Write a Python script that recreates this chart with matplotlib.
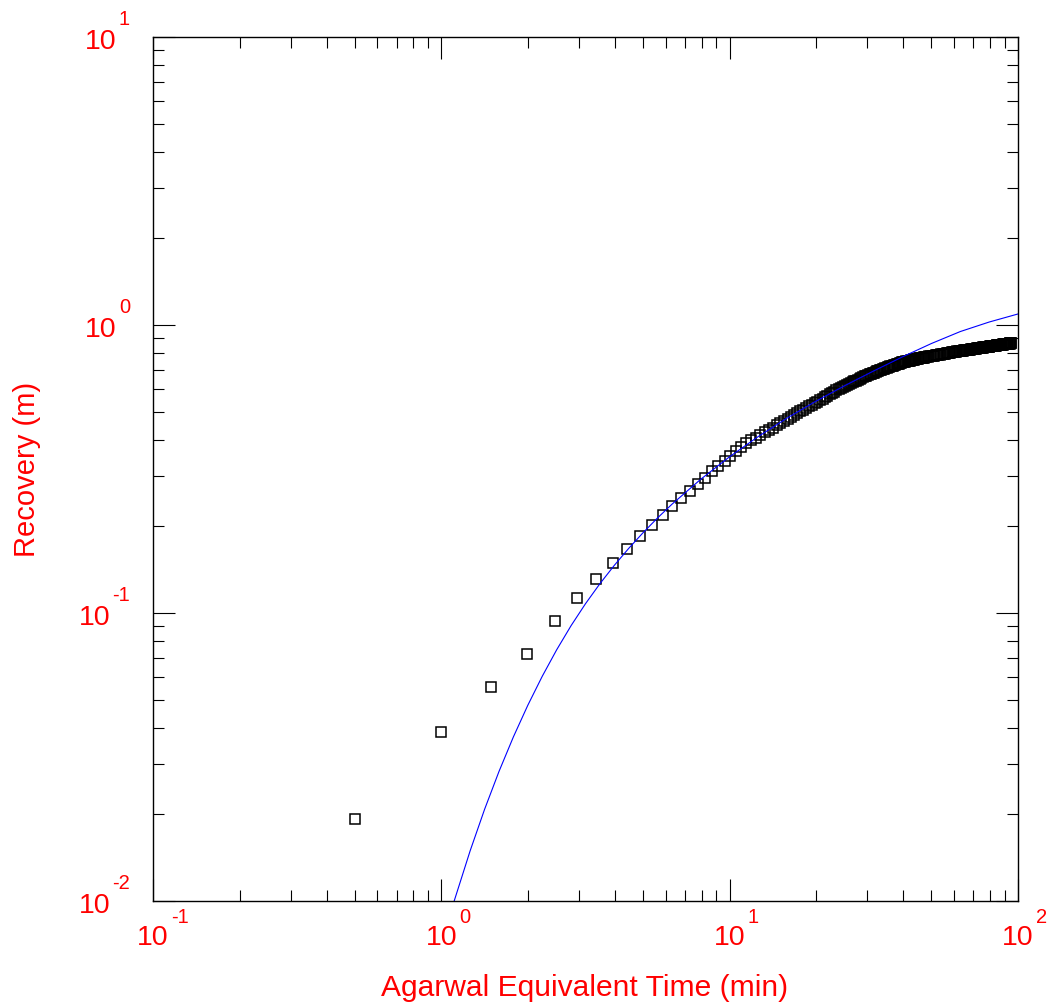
import matplotlib
matplotlib.use('Agg')
import matplotlib.pyplot as plt
from matplotlib.transforms import offset_copy, blended_transform_factory
from matplotlib.ticker import LogLocator, NullFormatter

plt.rcParams['font.family'] = ['Liberation Sans', 'DejaVu Sans']

# observed recovery (squares)
time_min = [
    0.50, 1.00, 1.49, 1.98, 2.47, 2.96, 3.45, 3.93, 4.42, 4.90, 5.38, 5.85,
    6.33, 6.80, 7.27, 7.74, 8.21, 8.67, 9.14, 9.60, 10.06, 10.51, 10.97, 11.43,
    11.88, 12.33, 12.78, 13.23, 13.67, 14.12, 14.56, 15.00, 15.44, 15.88, 16.31,
    16.74, 17.17, 17.60, 18.03, 18.46, 18.88, 19.31, 19.73, 20.15, 20.57, 20.99,
    21.40, 21.82, 22.23, 22.64, 23.05, 23.46, 23.86, 24.27, 24.67, 25.07, 25.47,
    25.87, 26.26, 26.67, 27.06, 27.45, 27.84, 28.24, 28.62, 29.01, 29.39, 29.78,
    30.16, 30.55, 30.93, 31.30, 31.68, 32.06, 32.43, 32.80, 33.18, 33.55, 33.91,
    34.29, 34.65, 35.02, 35.38, 35.75, 36.11, 36.47, 36.83, 37.18, 37.54, 37.90,
    38.25, 38.60, 38.95, 39.30, 39.65, 40.00, 40.35, 40.69, 41.04, 41.38, 41.72,
    42.06, 42.40, 42.74, 43.08, 43.41, 43.75, 44.08, 44.41, 44.75, 45.08, 45.41,
    45.73, 46.06, 46.39, 46.71, 47.04, 47.36, 47.68, 48.00, 48.64, 49.27, 49.90,
    50.53, 51.15, 51.77, 52.38, 52.99, 53.59, 54.19, 54.79, 55.39, 55.97, 56.56,
    57.14, 57.72, 58.30, 58.87, 59.44, 60.00, 60.56, 61.12, 61.67, 62.22, 62.77,
    63.31, 63.85, 64.39, 64.92, 65.45, 65.98, 66.51, 67.03, 67.55, 68.06, 68.57,
    69.08, 69.59, 70.09, 70.59, 71.09, 71.58, 72.07, 72.56, 73.04, 73.53, 74.01,
    74.48, 74.96, 75.43, 75.90, 76.36, 76.83, 77.29, 77.75, 78.20, 78.66, 79.11,
    79.55, 80.00, 80.44, 80.88, 81.32, 81.76, 82.19, 82.62, 83.05, 83.48, 83.90,
    84.32, 84.74, 85.16, 85.58, 85.99, 86.40, 86.81, 87.22, 87.62, 88.02, 88.42,
    88.82, 89.22, 89.61, 90.00, 90.39, 90.78, 91.16, 91.55, 91.93, 92.31, 92.69,
    93.06, 93.44, 93.81, 94.18, 94.55, 94.91,
]
recovery_m = [
    0.0193, 0.0386, 0.0553, 0.0721, 0.0935, 0.1127, 0.1315, 0.149, 0.167, 0.185,
    0.202, 0.219, 0.235, 0.250, 0.265, 0.280, 0.295, 0.311, 0.325, 0.338, 0.351,
    0.364, 0.377, 0.389,
    0.398, 0.4066, 0.415, 0.4239, 0.432, 0.4402, 0.4482, 0.456, 0.4639, 0.4716,
    0.479, 0.4865, 0.4937, 0.5009, 0.508, 0.515, 0.5218, 0.5288, 0.5354, 0.5421,
    0.5488, 0.5553, 0.5616, 0.568, 0.5743, 0.5806, 0.5868, 0.5927, 0.5986, 0.6047,
    0.6094, 0.6142, 0.6188, 0.6235, 0.628, 0.6326, 0.6371, 0.6414, 0.6458, 0.6503,
    0.6545, 0.6588, 0.6629, 0.667, 0.6704, 0.6738, 0.6772, 0.6804, 0.6837, 0.687,
    0.6902, 0.6933, 0.6965, 0.6996, 0.7026, 0.7058, 0.7083, 0.7108, 0.7132, 0.7158,
    0.7181, 0.7205, 0.7228, 0.7251, 0.7274, 0.7297, 0.7320, 0.7343, 0.7365, 0.7388,
    0.7410, 0.7432, 0.7449, 0.7466, 0.7483, 0.7500, 0.7514, 0.7527, 0.7541, 0.7555,
    0.7568, 0.7580, 0.7593, 0.7605, 0.7617, 0.7629, 0.7640, 0.7652, 0.7663, 0.7674,
    0.7685, 0.7695, 0.7706, 0.7716, 0.7727, 0.7737, 0.7757, 0.7776, 0.7794, 0.7813,
    0.7831, 0.7848, 0.7865, 0.7882, 0.7898, 0.7914, 0.7930, 0.7945, 0.7960, 0.7975,
    0.7989, 0.8003, 0.8017, 0.8030, 0.8043, 0.8055, 0.8067, 0.8079, 0.8091, 0.8102,
    0.8114, 0.8125, 0.8136, 0.8147, 0.8158, 0.8168, 0.8178, 0.8188, 0.8198, 0.8208,
    0.8218, 0.8227, 0.8236, 0.8245, 0.8254, 0.8263, 0.8272, 0.8281, 0.8290, 0.8298,
    0.8306, 0.8315, 0.8323, 0.8331, 0.8339, 0.8347, 0.8354, 0.8362, 0.8370, 0.8377,
    0.8385, 0.8392, 0.8399, 0.8407, 0.8414, 0.8421, 0.8428, 0.8435, 0.8442, 0.8449,
    0.8456, 0.8463, 0.8469, 0.8476, 0.8482, 0.8489, 0.8495, 0.8502, 0.8508, 0.8514,
    0.8521, 0.8527, 0.8533, 0.8539, 0.8545, 0.8551, 0.8557, 0.8563, 0.8568, 0.8574,
    0.8580, 0.8586, 0.8591, 0.8597, 0.8602, 0.8608, 0.8613, 0.8619, 0.8624, 0.8630,
    0.8635, 0.8640, 0.8645,
]

# fitted curve (blue line)
model_time = [1.047, 1.108, 1.259, 1.413, 1.585, 1.778, 1.995, 2.239, 2.512,
              2.818, 3.162, 3.548, 3.981, 4.467, 5.012, 5.623, 6.310, 7.943,
              10.0, 12.59, 15.85, 19.95, 25.12, 31.62, 39.81, 50.12, 63.10,
              79.43, 100.0]
model_recovery = [0.00826, 0.0100, 0.01495, 0.02083, 0.02818, 0.03714, 0.04783,
                  0.06031, 0.07452, 0.09036, 0.1077, 0.1264, 0.1464, 0.1677,
                  0.1902, 0.2139, 0.2387, 0.2915, 0.3489, 0.4105, 0.4757, 0.5443,
                  0.6163, 0.6929, 0.7757, 0.8627, 0.9491, 1.0240, 1.0922]

x_exps = ['-1', '0', '1', '2']
y_exps = ['-2', '-1', '0', '1']

RED = '#ff0000'

fig = plt.figure(figsize=(10.5, 10.08), dpi=100)
ax = fig.add_axes([153 / 1050, 1 - 901 / 1008, 865 / 1050, 864 / 1008])

ax.plot(time_min, recovery_m, linestyle='none', marker='s', markersize=7.4,
        markerfacecolor='none', markeredgecolor='black', markeredgewidth=1.1)
ax.plot(model_time, model_recovery, color='#0000ff', linewidth=0.8)

ax.set_xscale('log')
ax.set_yscale('log')
ax.set_xlim(0.1, 100)
ax.set_ylim(0.01, 10)

for axis in (ax.xaxis, ax.yaxis):
    axis.set_major_locator(LogLocator(base=10, numticks=10))
    axis.set_minor_locator(LogLocator(base=10, subs=range(2, 10), numticks=10))
    axis.set_minor_formatter(NullFormatter())
ax.tick_params(which='both', direction='in', top=True, right=True,
               labelbottom=False, labelleft=False, color='black', width=0.8)
ax.tick_params(which='major', length=15.8)
ax.tick_params(which='minor', length=7.9)
for sp in ax.spines.values():
    sp.set_linewidth(1.0)

# tick labels drawn as "10" with a raised exponent
tx = blended_transform_factory(ax.transData, ax.transAxes)
for e in x_exps:
    base = ax.text(10.0 ** float(e), 0, '10',
                   transform=offset_copy(tx, fig=fig, x=0, y=-24, units='dots'),
                   ha='center', va='top', color=RED, fontsize=20.5)
    ax.annotate(e, xy=(1, 1), xycoords=base, xytext=(1.5, -1.3),
                textcoords='offset points', ha='left', va='bottom',
                color=RED, fontsize=14.5)

ty = blended_transform_factory(ax.transAxes, ax.transData)
for e in y_exps:
    sup = ax.text(0, 10.0 ** float(e), e,
                  transform=offset_copy(ty, fig=fig, x=-23, y=8, units='dots'),
                  ha='right', va='bottom', color=RED, fontsize=14.5)
    ax.annotate('10', xy=(0, 0), xycoords=sup, xytext=(-1.5, 0),
                textcoords='offset points', ha='right', va='top',
                color=RED, fontsize=20.5)

fig.text(585 / 1050, 1 - 988 / 1008, 'Agarwal Equivalent Time (min)',
         ha='center', va='center', color=RED, fontsize=21.6)
fig.text(27 / 1050, 1 - 469 / 1008, 'Recovery (m)', rotation=90,
         ha='center', va='center', color=RED, fontsize=21)

fig.savefig('out.png', dpi=100)
